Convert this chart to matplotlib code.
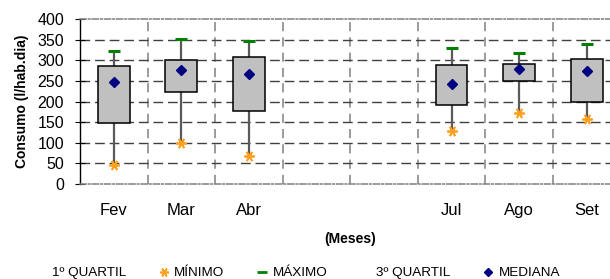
import numpy as np
import matplotlib.pyplot as plt
from matplotlib.lines import Line2D

# Dados (l/hab.dia); Mai e Jun sem dados
meses = ['Fev', 'Mar', 'Abr', 'Mai', 'Jun', 'Jul', 'Ago', 'Set']
rotulos = ['Fev', 'Mar', 'Abr', '', '', 'Jul', 'Ago', 'Set']
minimo = [46, 100, 68, np.nan, np.nan, 129, 173, 158]
quartil1 = [148, 222, 177, np.nan, np.nan, 191, 250, 198]
mediana = [248, 276, 267, np.nan, np.nan, 242, 278, 274]
quartil3 = [285, 300, 308, np.nan, np.nan, 288, 290, 304]
maximo = [322, 351, 346, np.nan, np.nan, 330, 317, 339]
yticks = [0, 50, 100, 150, 200, 250, 300, 350, 400]

plt.rcParams['font.family'] = ['Liberation Sans', 'DejaVu Sans']

fig = plt.figure(figsize=(6.10, 2.79), dpi=100)
ax = fig.add_axes([80/610, 95/279, 540.5/610, 165/279])

x = np.arange(1, len(meses) + 1)
q1 = np.array(quartil1)
q3 = np.array(quartil3)

# bigodes (min -> max) atras da caixa
ax.vlines(x, minimo, maximo, color='#5a5a5a', lw=1.6, zorder=2)
ax.bar(x, q3 - q1, bottom=q1, width=0.47, color='#c0c0c0',
       edgecolor='black', lw=1.1, zorder=3)
ax.plot(x, minimo, ls='none', marker=(6, 2, 90), ms=7.5, mew=1.3,
        color='#ffa020', zorder=4)
ax.plot(x, maximo, ls='none', marker='_', ms=8, mew=2.2,
        color='#008000', zorder=4)
ax.plot(x, mediana, ls='none', marker='D', ms=5,
        color='#000080', zorder=5)

ax.set_xlim(0.5, 8.5)
ax.set_ylim(0, 400)
ax.set_yticks(yticks)
ax.set_xticks(x)
ax.set_xticklabels(rotulos, fontsize=12)
ax.tick_params(axis='x', length=0, pad=14)
ax.tick_params(axis='y', direction='inout', length=7, width=0.8,
               labelsize=11.5, pad=8)

# grade
ax.set_xticks(x[:-1] + 0.5, minor=True)
ax.tick_params(axis='x', which='minor', length=0)
ax.grid(axis='y', color='#404040', lw=1, dashes=(7, 3.5), zorder=0)
ax.grid(axis='x', which='minor', color='#808080', lw=1.1,
        dashes=(6, 4), zorder=0)
ax.grid(axis='x', which='major', visible=False)
gl = ax.yaxis.get_gridlines()
gl[0].set_visible(False)
gl[-1].set_visible(False)

for s in ['top', 'bottom']:
    ax.spines[s].set_color('#808080')
    ax.spines[s].set_linewidth(1.1)
    ax.spines[s].set_linestyle((0, (4, 1.5, 1, 1.5)))
ax.spines['right'].set_visible(False)
ax.spines['left'].set_linestyle((0, (1, 1)))
ax.spines['left'].set_linewidth(1)

ax.set_ylabel('Consumo (l/hab.dia)', fontsize=10, fontweight='bold',
              labelpad=6)
ax.set_xlabel('(Meses)', fontsize=10, fontweight='bold', labelpad=10)

handles = [
    Line2D([], [], ls='none'),
    Line2D([], [], ls='none', marker=(6, 2, 90), ms=6.5, mew=1.2, color='#ffa020'),
    Line2D([], [], ls='none', marker='_', ms=7, mew=2, color='#008000'),
    Line2D([], [], ls='none'),
    Line2D([], [], ls='none', marker='D', ms=4.5, color='#000080'),
]
labels = ['1º QUARTIL', 'MÍNIMO', 'MÁXIMO', '3º QUARTIL', 'MEDIANA']
fig.legend(handles, labels, loc='center', ncol=5, frameon=False,
           bbox_to_anchor=(298/610, 6/279), fontsize=9.7,
           handlelength=0.8, handletextpad=0.4, columnspacing=2.4)

fig.savefig('out.png', dpi=100)
